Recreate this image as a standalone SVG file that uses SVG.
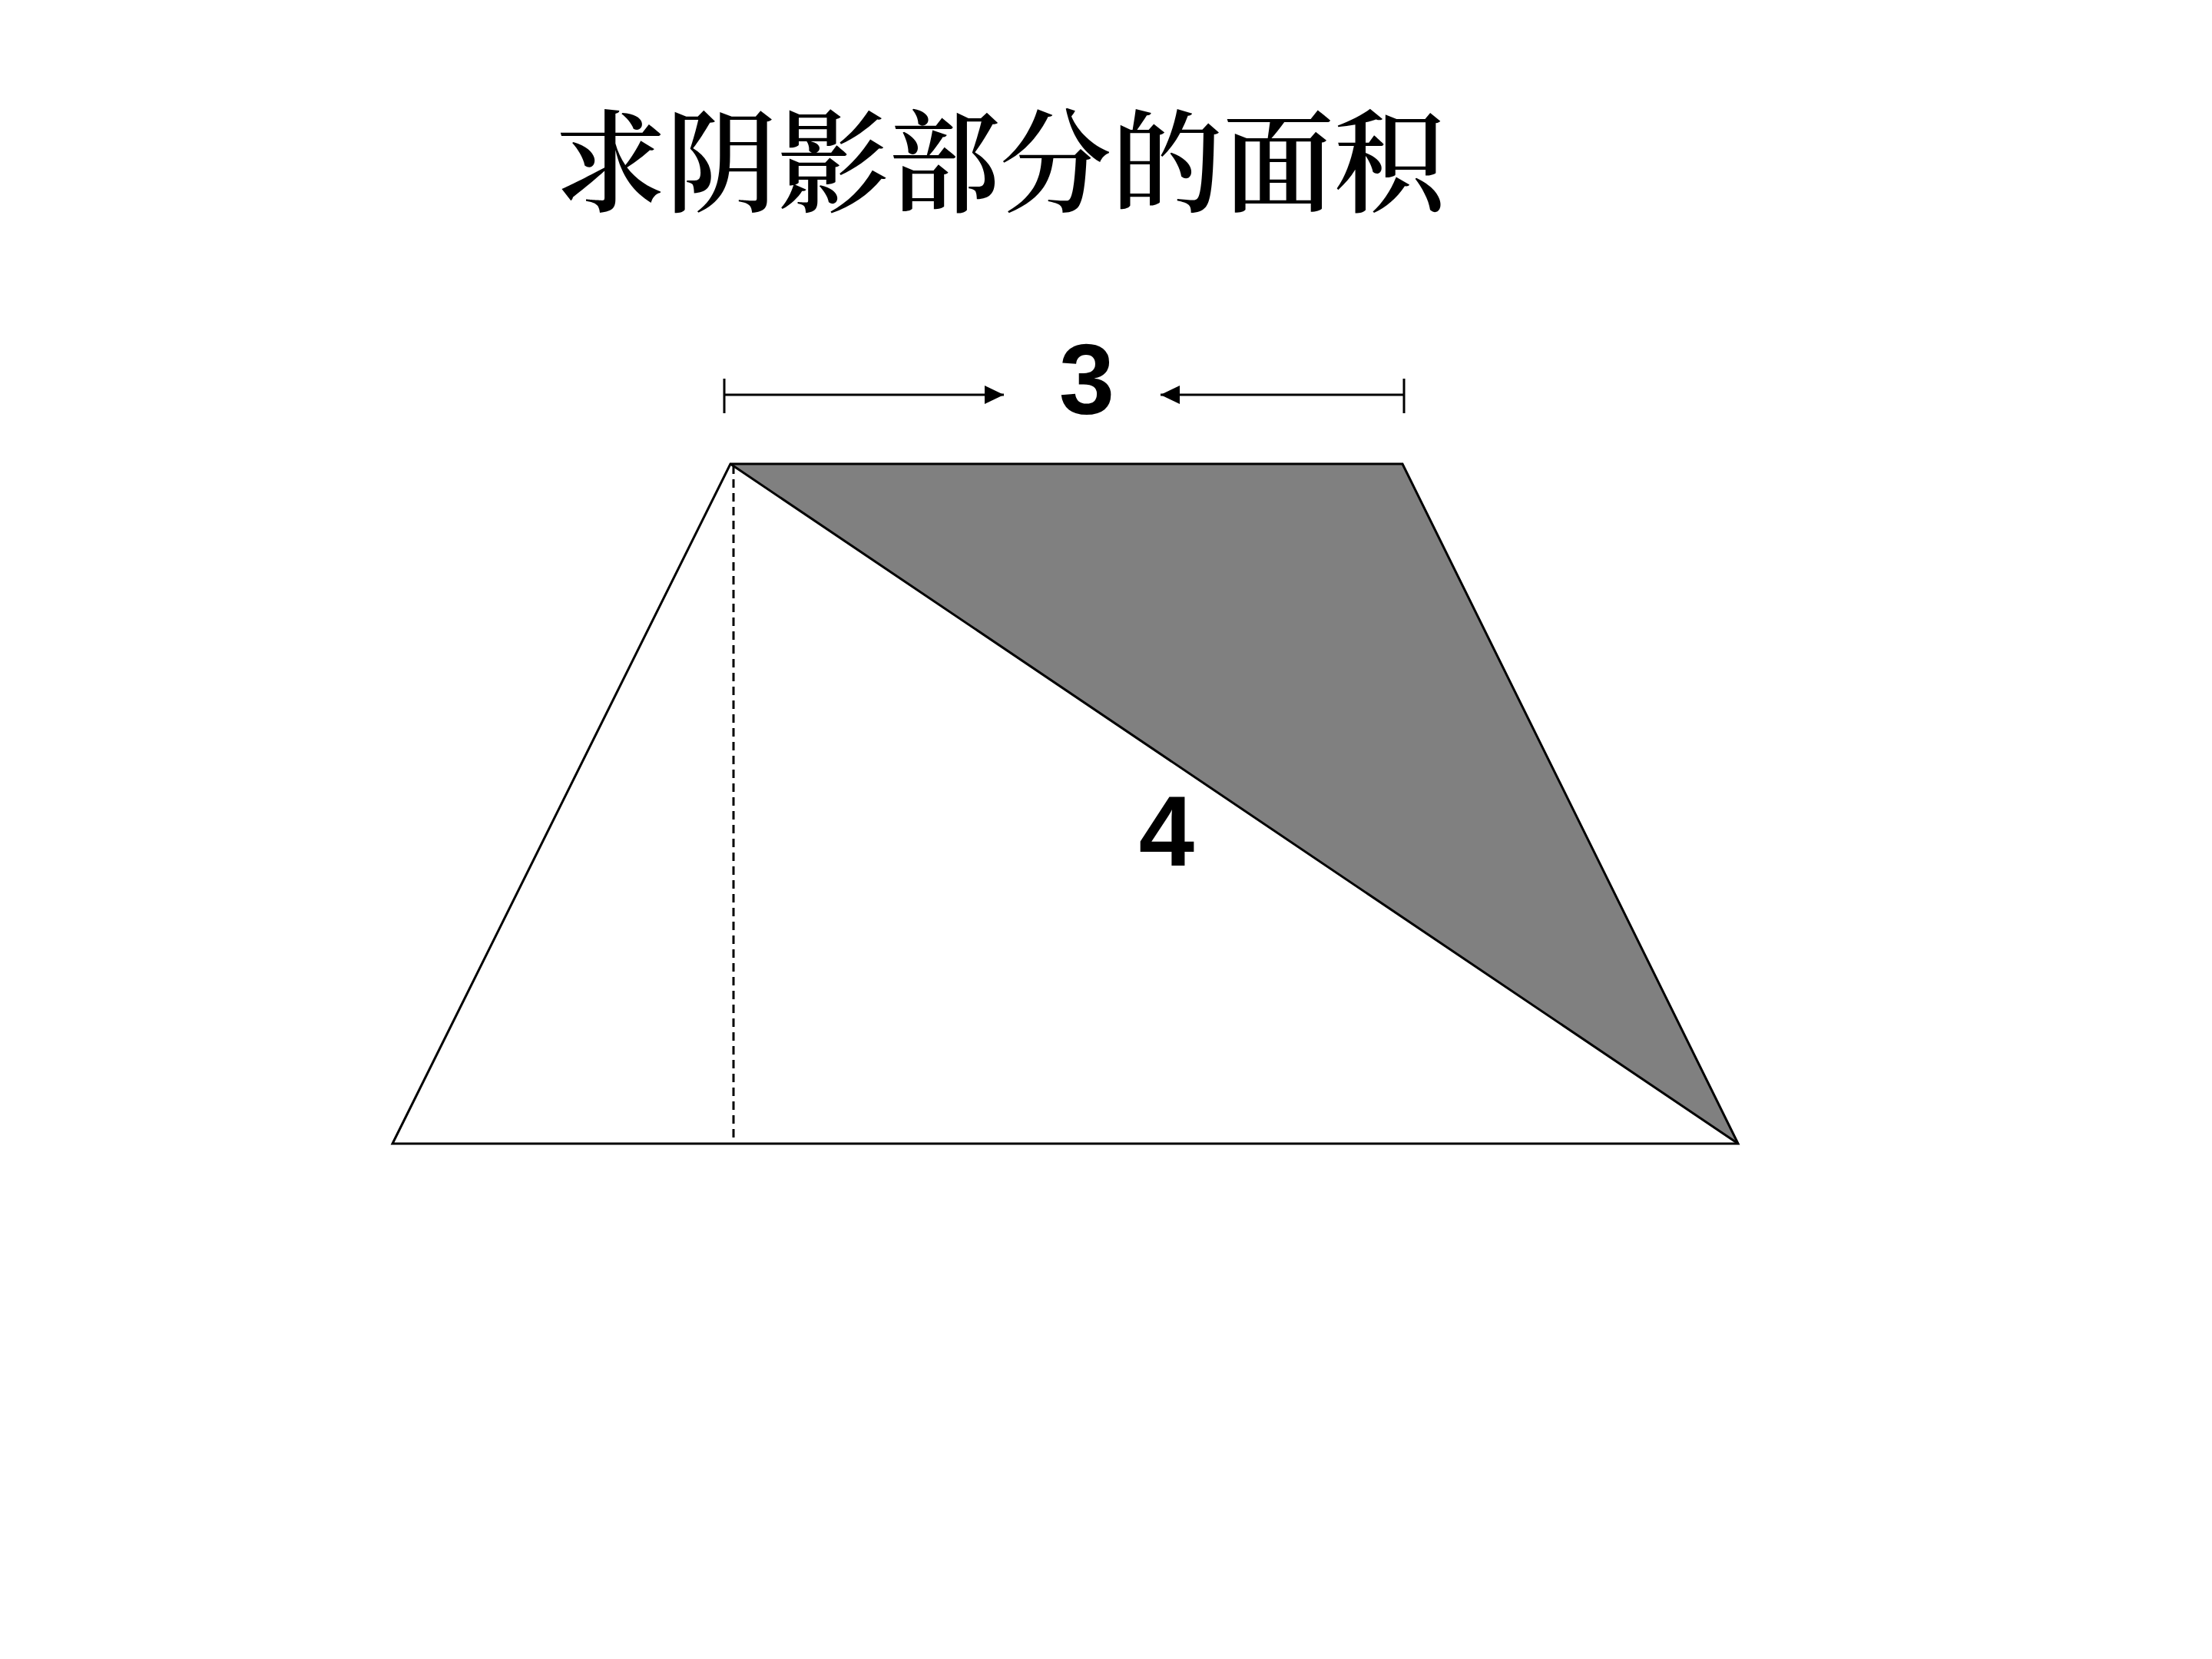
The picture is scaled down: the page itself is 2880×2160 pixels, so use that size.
<svg xmlns="http://www.w3.org/2000/svg" width="2880" height="2160" viewBox="0 0 2880 2160">
  <style>
    .edge { fill: none; stroke: #000; stroke-width: 3; stroke-linejoin: miter; }
    .dim { fill: none; stroke: #000; stroke-width: 3; }
    .num { font-family: "Liberation Sans", Arial, sans-serif; font-weight: bold; font-size: 130px; fill: #000; text-anchor: middle; }
    .title { font-family: "Noto Serif CJK SC", "Noto Sans CJK SC", serif; font-weight: 600; font-size: 145px; fill: #000; text-anchor: middle; }
  </style>
  <defs>
    <marker id="arrow" viewBox="0 0 25 24" refX="25" refY="12" markerWidth="25" markerHeight="24" markerUnits="userSpaceOnUse" orient="auto">
      <path d="M0,0 L25,12 L0,24 Z" fill="#000"/>
    </marker>
  </defs>
  <rect width="2880" height="2160" fill="#fff"/>

  <g id="title">
    <text class="title" x="1302" y="265">求阴影部分的面积</text>
  </g>

  <g id="shaded-triangle">
    <polygon points="951,604 1826,604 2263,1489" fill="#808080" stroke="none"/>
  </g>

  <g id="trapezoid">
    <polygon class="edge" points="511,1489 951,604 1826,604 2263,1489"/>
  </g>

  <g id="connectors">
    <line id="diagonal" class="edge" x1="951" y1="604" x2="2263" y2="1489"/>
    <line id="height" x1="955" y1="606" x2="955" y2="1489" stroke="#000" stroke-width="3" stroke-dasharray="11,7"/>
    <line id="tick-left" class="dim" x1="943" y1="493" x2="943" y2="538"/>
    <line id="tick-right" class="dim" x1="1828" y1="493" x2="1828" y2="538"/>
    <line id="arrow-left" class="dim" x1="943" y1="514" x2="1307" y2="514" marker-end="url(#arrow)"/>
    <line id="arrow-right" class="dim" x1="1828" y1="514" x2="1511" y2="514" marker-end="url(#arrow)"/>
  </g>

  <g id="label-3">
    <text class="num" x="1415" y="539">3</text>
  </g>
  <g id="label-4">
    <text class="num" x="1519" y="1127">4</text>
  </g>
</svg>
